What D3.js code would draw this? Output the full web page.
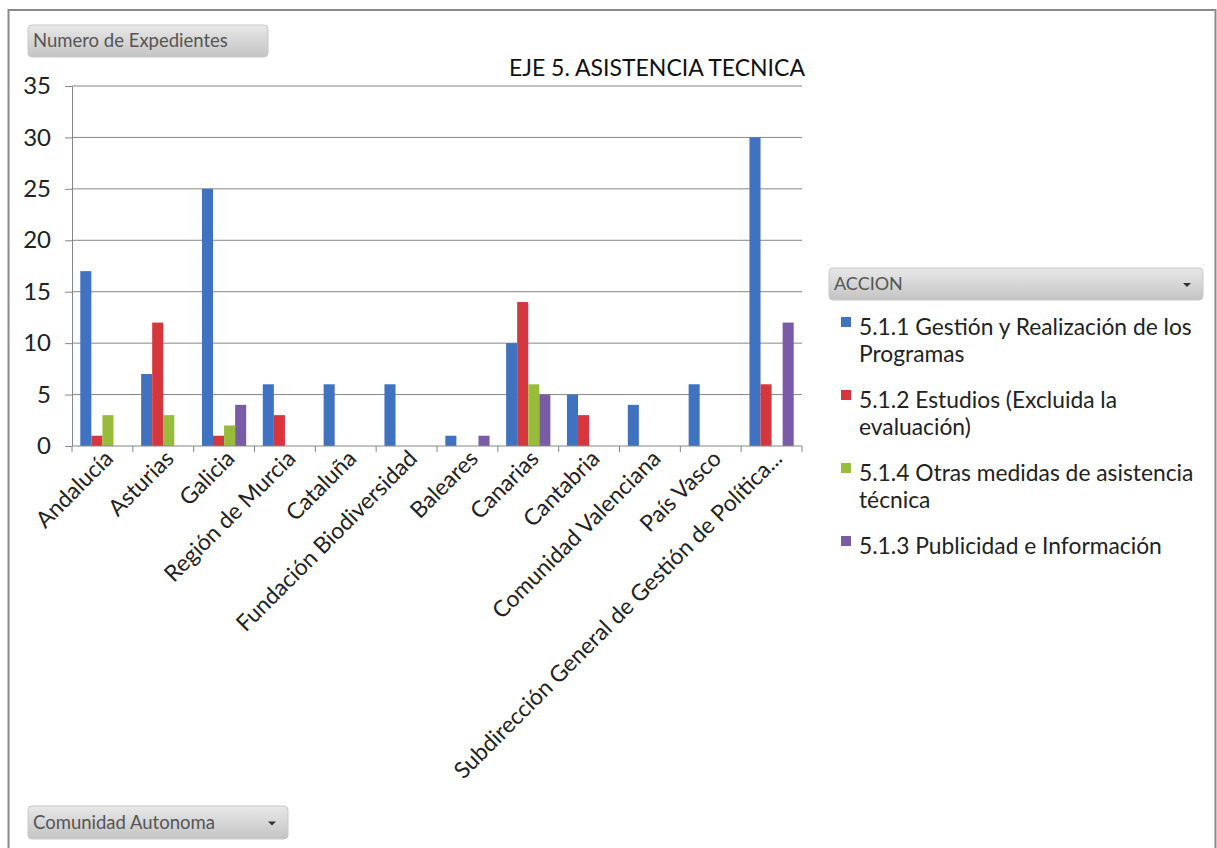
<!DOCTYPE html>
<html>
<head>
<meta charset="utf-8">
<script src="https://cdn.jsdelivr.net/npm/d3@7"></script>
<style>
  body { margin: 0; background: #fff; }
  svg { display: block; font-family: Lato, "Open Sans", sans-serif; }
  svg text { font-family: Lato, "Open Sans", sans-serif; }
</style>
</head>
<body>
<div id="chart"></div>
<script>
// Categories along the x axis
const categories = [
  "Andalucía", "Asturias", "Galicia", "Región de Murcia", "Cataluña",
  "Fundación Biodiversidad", "Baleares", "Canarias", "Cantabria",
  "Comunidad Valenciana", "País Vasco", "Subdirección General de Gestión de Política..."
];

// Series names (legend order = drawing order)
const seriesNames = [
  "5.1.1 Gestión y Realización de los Programas",
  "5.1.2 Estudios (Excluida la evaluación)",
  "5.1.4 Otras medidas de asistencia técnica",
  "5.1.3 Publicidad e Información"
];

// Values per series, one per category
const s511 = [17, 7, 25, 6, 6, 6, 1, 10, 5, 4, 6, 30];
const s512 = [1, 12, 1, 3, 0, 0, 0, 14, 3, 0, 0, 6];
const s514 = [3, 3, 2, 0, 0, 0, 0, 6, 0, 0, 0, 0];
const s513 = [0, 0, 4, 0, 0, 0, 1, 5, 0, 0, 0, 12];

const yTicks = [0, 5, 10, 15, 20, 25, 30, 35];
const colors = ["#3f72c0", "#d6373e", "#99bb3c", "#7a5ca6"];

// legend lines wrap like the original
const legendLines = [
  ["5.1.1 Gestión y Realización de los", "Programas"],
  ["5.1.2 Estudios (Excluida la", "evaluación)"],
  ["5.1.4 Otras medidas de asistencia", "técnica"],
  ["5.1.3 Publicidad e Información"]
];

const W = 1217, H = 848;
const plot = { left: 72, right: 802, top: 86, bottom: 446 };

const svg = d3.select("#chart").append("svg")
  .attr("width", W).attr("height", H);

const defs = svg.append("defs");
const grad = defs.append("linearGradient")
  .attr("id", "btn").attr("x1", 0).attr("x2", 0).attr("y1", 0).attr("y2", 1);
grad.append("stop").attr("offset", "0%").attr("stop-color", "#e8e8e8");
grad.append("stop").attr("offset", "55%").attr("stop-color", "#d4d4d4");
grad.append("stop").attr("offset", "100%").attr("stop-color", "#c4c4c4");

// outer frame
svg.append("rect")
  .attr("x", 8.5).attr("y", 10)
  .attr("width", 1207).attr("height", 850)
  .attr("fill", "#fff").attr("stroke", "#8a8a8a").attr("stroke-width", 2);

// field buttons
function button(x, y, w, h, label, arrow, fs) {
  const g = svg.append("g");
  g.append("rect").attr("x", x).attr("y", y).attr("width", w).attr("height", h)
    .attr("rx", 4).attr("fill", "url(#btn)").attr("stroke", "#c8c8c8");
  g.append("text").attr("x", x + 5).attr("y", y + h / 2 + 6)
    .attr("font-size", fs).attr("fill", "#555").text(label);
  if (arrow) {
    const ax = x + w - 16, ay = y + h / 2 - 1;
    g.append("path").attr("d", `M${ax - 4},${ay} L${ax + 4},${ay} L${ax},${ay + 4} Z`).attr("fill", "#333");
  }
}
button(28, 25, 240, 32, "Numero de Expedientes", false, 18.5);
button(28, 806, 260, 33, "Comunidad Autonoma", true, 18.5);
button(829, 268, 374, 32, "ACCION", true, 18);

// title
svg.append("text")
  .attr("x", 805).attr("y", 76)
  .attr("text-anchor", "end")
  .attr("font-size", 23).attr("fill", "#111")
  .text("EJE 5. ASISTENCIA TECNICA");

// scales
const x0 = d3.scaleBand().domain(categories).range([plot.left, plot.right]);
const x1 = d3.scaleBand().domain(d3.range(seriesNames.length))
  .range([0, x0.bandwidth()]).paddingOuter(0.75).paddingInner(0);
const y = d3.scaleLinear().domain([0, 35]).range([plot.bottom, plot.top]);

// gridlines
svg.append("g").selectAll("line").data(yTicks.filter(d => d > 0)).join("line")
  .attr("x1", plot.left).attr("x2", plot.right)
  .attr("y1", d => y(d)).attr("y2", d => y(d))
  .attr("stroke", "#868686").attr("stroke-width", 1);

// y axis
const yAxis = svg.append("g")
  .attr("transform", `translate(${plot.left},0)`)
  .call(d3.axisLeft(y).tickValues(yTicks).tickSize(7).tickPadding(14).tickSizeOuter(0));
yAxis.attr("font-family", null);
yAxis.selectAll("text").attr("font-size", 24).attr("fill", "#222");
yAxis.selectAll("line, path").attr("stroke", "#868686");

// bars
const table = [s511, s512, s514, s513];
const rows = [];
categories.forEach((c, i) => table.forEach((s, k) => {
  if (s[i] > 0) rows.push({ c, k, v: s[i] });
}));
svg.append("g").selectAll("rect").data(rows).join("rect")
  .attr("x", d => x0(d.c) + x1(d.k))
  .attr("y", d => y(d.v))
  .attr("width", x1.bandwidth())
  .attr("height", d => y(0) - y(d.v))
  .attr("fill", d => colors[d.k]);

// x axis with ticks between categories
const xAxis = svg.append("g")
  .attr("transform", `translate(0,${plot.bottom})`);
xAxis.append("line").attr("x1", plot.left).attr("x2", plot.right)
  .attr("stroke", "#868686");
xAxis.selectAll("line.t").data(d3.range(categories.length + 1)).join("line")
  .attr("class", "t")
  .attr("x1", i => plot.left + i * x0.step()).attr("x2", i => plot.left + i * x0.step())
  .attr("y1", 0).attr("y2", 6).attr("stroke", "#868686");
xAxis.selectAll("text").data(categories).join("text")
  .attr("transform", d => `translate(${x0(d) + x0.bandwidth() / 2 + 12},${14}) rotate(-45)`)
  .attr("text-anchor", "end")
  .attr("font-size", 22.8)
  .attr("fill", "#222")
  .text(d => d);

// legend
const lg = svg.append("g");
let ly = 327;
legendLines.forEach((lines, k) => {
  lg.append("rect").attr("x", 841).attr("y", ly - 10).attr("width", 10).attr("height", 10)
    .attr("fill", colors[k]);
  lines.forEach((t, j) => {
    lg.append("text").attr("x", 859).attr("y", ly + j * 27 + 8)
      .attr("font-size", 22.8).attr("fill", "#222").text(t);
  });
  ly += 73;
});
</script>
</body>
</html>
